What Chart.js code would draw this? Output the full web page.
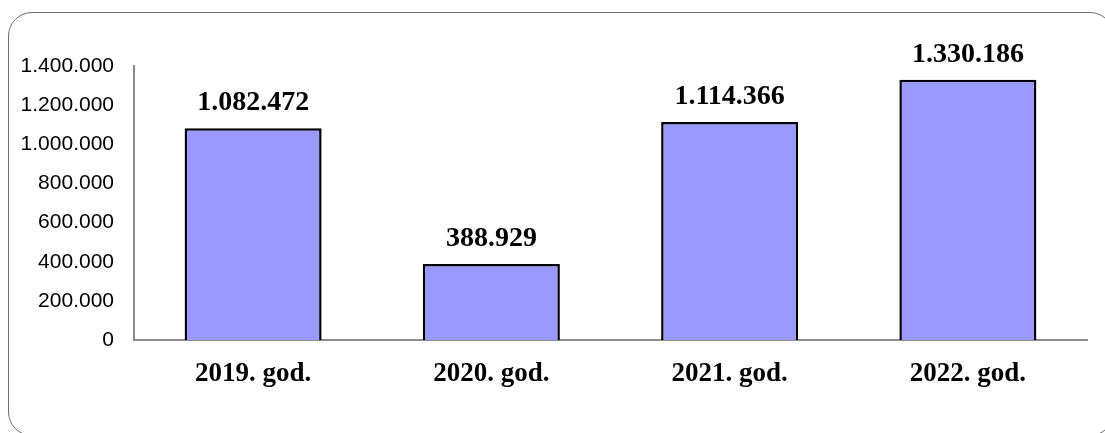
<!DOCTYPE html>
<html>
<head>
<meta charset="utf-8">
<script src="https://cdn.jsdelivr.net/npm/chart.js@4.4.0/dist/chart.umd.min.js"></script>
<style>
  html, body { margin: 0; padding: 0; background: #fff; overflow: hidden; }
  #frame {
    position: absolute; left: 8px; top: 12px; width: 1106px; height: 424px;
    border: 1.5px solid #6f6f6f; border-radius: 24px; box-sizing: border-box;
  }
  #wrap { position: absolute; left: 0; top: 0; width: 1105px; height: 433px; }
</style>
</head>
<body>
<div id="frame"></div>
<div id="wrap"><canvas id="chart"></canvas></div>
<script>
const categories = ["2019. god.", "2020. god.", "2021. god.", "2022. god."];
const values = [1082472, 388929, 1114366, 1330186];
const yTicks = [0, 200000, 400000, 600000, 800000, 1000000, 1200000, 1400000];

function fmt(n) {
  return String(n).replace(/\B(?=(\d{3})+(?!\d))/g, ".");
}

const valueLabels = {
  id: "valueLabels",
  afterDatasetsDraw(chart) {
    const ctx = chart.ctx;
    const meta = chart.getDatasetMeta(0);
    ctx.save();
    ctx.font = "bold 28px 'Liberation Serif', 'Times New Roman', serif";
    ctx.fillStyle = "#000";
    ctx.textAlign = "center";
    ctx.textBaseline = "alphabetic";
    meta.data.forEach((bar, i) => {
      ctx.fillText(fmt(values[i]), bar.x, bar.y - 18);
    });
    ctx.restore();
  }
};

const ctx = document.getElementById("chart").getContext("2d");
new Chart(ctx, {
  type: "bar",
  data: {
    labels: categories,
    datasets: [{
      data: values,
      backgroundColor: "#9999ff",
      borderColor: "#000",
      borderWidth: 2.5,
      barPercentage: 0.575,
      categoryPercentage: 1
    }]
  },
  options: {
    responsive: true,
    maintainAspectRatio: false,
    animation: false,
    layout: { padding: { left: 0, right: 18, top: 66, bottom: 0 } },
    plugins: { legend: { display: false }, tooltip: { enabled: false } },
    scales: {
      x: {
        grid: { display: false, drawTicks: false },
        border: { color: "#8c8c8c", width: 2 },
        ticks: {
          color: "#000",
          padding: 18,
          font: { family: "'Liberation Serif', 'Times New Roman', serif", size: 27, weight: "bold" }
        },
        afterFit(s) { s.height = 93; }
      },
      y: {
        min: 0,
        max: 1400000,
        afterBuildTicks(s) { s.ticks = yTicks.map(v => ({ value: v })); },
        grid: { display: false, drawTicks: false },
        border: { color: "#8c8c8c", width: 2 },
        ticks: {
          color: "#000",
          padding: 20,
          font: { family: "'Liberation Sans', Arial, sans-serif", size: 21 },
          callback: v => fmt(v)
        },
        afterFit(s) { s.width = 134; }
      }
    }
  },
  plugins: [valueLabels]
});
</script>
</body>
</html>
